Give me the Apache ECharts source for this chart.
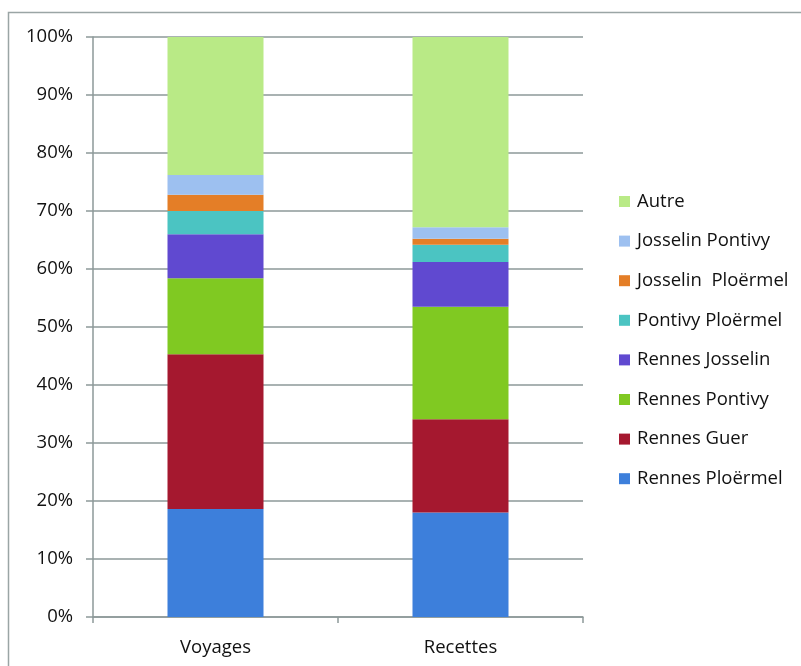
<!DOCTYPE html>
<html><head><meta charset="utf-8">
<script src="https://cdn.jsdelivr.net/npm/echarts@6/dist/echarts.min.js"></script>
<style>html,body{margin:0;padding:0;background:#fff}#c{width:801px;height:666px}</style>
</head><body><div id="c"></div>
<script>
const categories = ['Voyages', 'Recettes'];
const seriesNames = ['Rennes Ploërmel', 'Rennes Guer', 'Rennes Pontivy', 'Rennes Josselin', 'Pontivy Ploërmel', 'Josselin  Ploërmel', 'Josselin Pontivy', 'Autre'];
const rennesPloermel = [18.6, 18.0];
const rennesGuer = [26.7, 16.1];
const rennesPontivy = [13.1, 19.4];
const rennesJosselin = [7.6, 7.7];
const pontivyPloermel = [4.0, 3.0];
const josselinPloermel = [2.8, 1.0];
const josselinPontivy = [3.4, 2.0];
const autre = [23.8, 32.8];
const yTicks = [0, 10, 20, 30, 40, 50, 60, 70, 80, 90, 100];

const values = [rennesPloermel, rennesGuer, rennesPontivy, rennesJosselin, pontivyPloermel, josselinPloermel, josselinPontivy, autre];
const colors = ['#3d7fdb', '#a5182f', '#80c922', '#6049d0', '#4bc4c2', '#e47e27', '#9dc0f0', '#b9ea86'];
const font = 'Open Sans';

const chart = echarts.init(document.getElementById('c'), null, {renderer: 'canvas'});
chart.setOption({
  animation: false,
  backgroundColor: '#fff',
  graphic: [{
    type: 'rect', silent: true, z: -1,
    shape: {x: 8.5, y: 12.5, width: 820, height: 700},
    style: {fill: 'none', stroke: '#9aa5a5', lineWidth: 1.5}
  }],
  grid: {left: 93, right: 218, top: 37, bottom: 49, containLabel: false},
  legend: {
    orient: 'vertical',
    left: 614, top: 184,
    itemWidth: 11, itemHeight: 11, itemGap: 14.6,
    icon: 'rect',
    data: seriesNames.slice().reverse(),
    textStyle: {fontFamily: font, fontSize: 18.5, color: '#111', lineHeight: 25, padding: [0, 0, 0, 2]}
  },
  xAxis: {
    type: 'category', data: categories,
    axisLine: {lineStyle: {color: '#8d9999', width: 1.5}},
    axisTick: {show: true, length: 6, lineStyle: {color: '#8d9999', width: 1.5}},
    axisLabel: {fontFamily: font, fontSize: 18.5, color: '#111', margin: 21},
    splitLine: {show: false}
  },
  yAxis: {
    type: 'value', min: 0, max: 100, interval: 10,
    axisLine: {show: true, lineStyle: {color: '#8d9999', width: 1.5}},
    axisTick: {show: true, length: 7, lineStyle: {color: '#8d9999', width: 1.5}},
    axisLabel: {fontFamily: font, fontSize: 18.5, color: '#111', margin: 20,
      formatter: v => yTicks.includes(v) ? v + '%' : ''},
    splitLine: {show: true, lineStyle: {color: '#8d9999', width: 1.5}}
  },
  series: seriesNames.map((n, i) => ({
    name: n, type: 'bar', stack: 'total', barWidth: 96,
    itemStyle: {color: colors[i]},
    data: values[i]
  }))
});
</script></body></html>
